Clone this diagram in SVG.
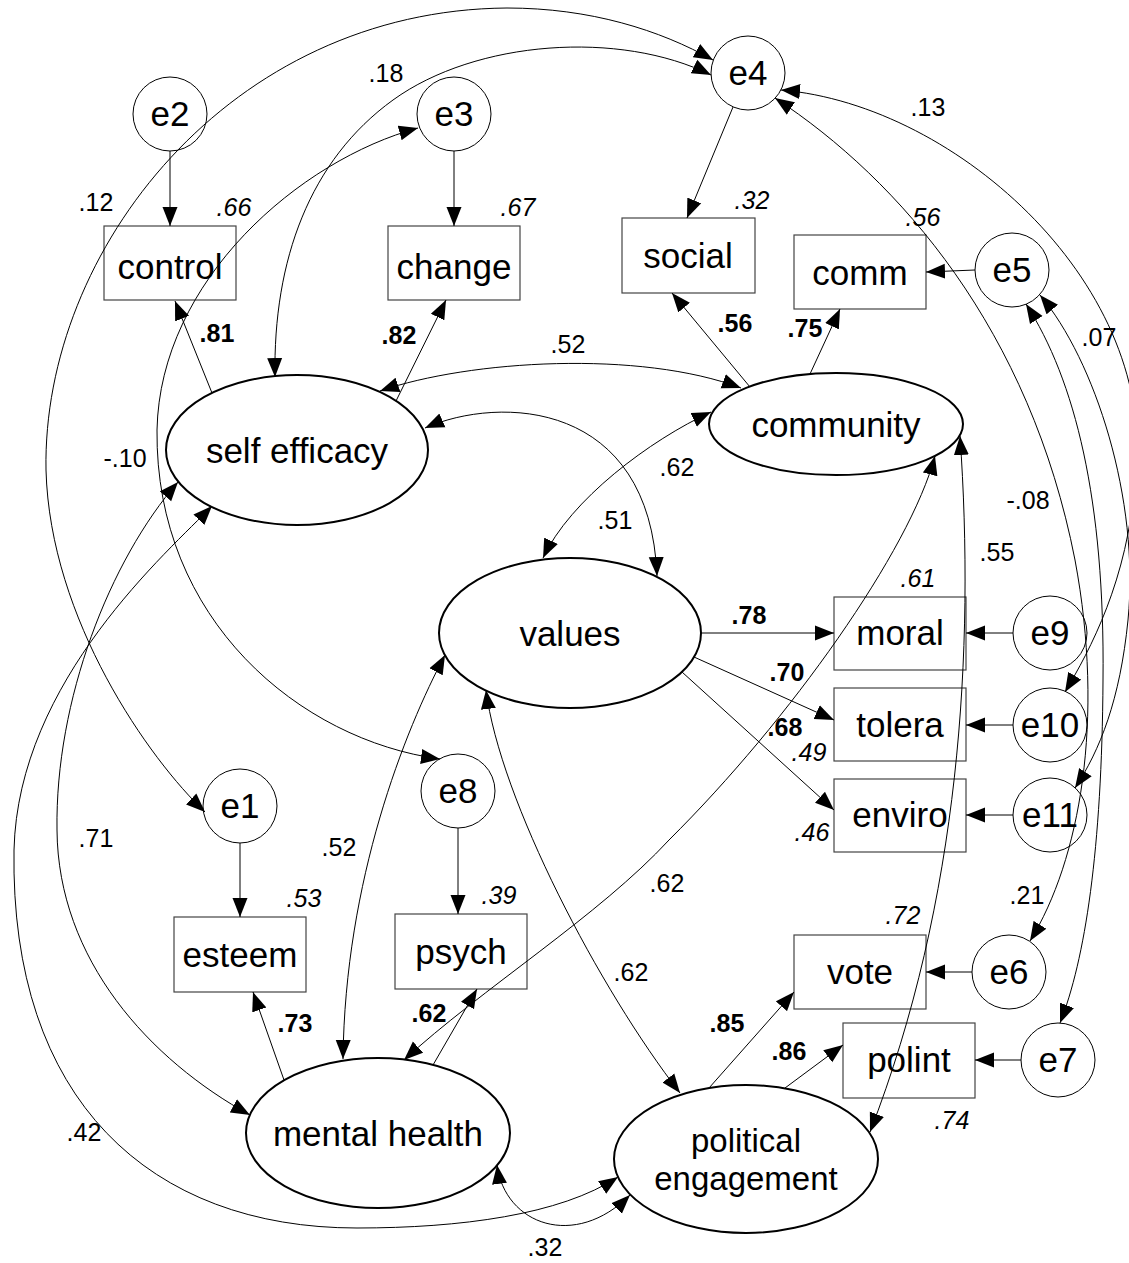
<svg xmlns="http://www.w3.org/2000/svg" width="1129" height="1263" viewBox="0 0 1129 1263">
<style>
.box{fill:#fff;stroke:#444;stroke-width:1.2}
.lat{fill:#fff;stroke:#000;stroke-width:2}
.err{fill:#fff;stroke:#000;stroke-width:1}
.t{font-family:"Liberation Sans",Arial,sans-serif;font-size:35px;text-anchor:middle;fill:#000}
.t2{font-family:"Liberation Sans",Arial,sans-serif;font-size:33px;text-anchor:middle;fill:#000}
.lb{font-family:"Liberation Sans",Arial,sans-serif;font-size:25px;text-anchor:middle;fill:#000}
.b{font-weight:bold}
.i{font-style:italic}
.s{fill:none;stroke:#000;stroke-width:1;marker-end:url(#ah)}
.d{fill:none;stroke:#000;stroke-width:1;marker-start:url(#ah);marker-end:url(#ah)}
</style>
<defs>
<marker id="ah" markerUnits="userSpaceOnUse" markerWidth="20" markerHeight="16" refX="19" refY="8" orient="auto-start-reverse"><path d="M0,0.5 L19,8 L0,15.5 z" fill="#000"/></marker>
</defs>
<rect width="1129" height="1263" fill="#fff"/>
<g id="nodes">
<g id="e2"><circle class="err" cx="170" cy="114" r="37"/><text class="t" x="170" y="126">e2</text></g>
<g id="e3"><circle class="err" cx="454" cy="114" r="37"/><text class="t" x="454" y="126">e3</text></g>
<g id="e4"><circle class="err" cx="748" cy="73" r="37"/><text class="t" x="748" y="85">e4</text></g>
<g id="e5"><circle class="err" cx="1012" cy="270" r="37"/><text class="t" x="1012" y="282">e5</text></g>
<g id="e9"><circle class="err" cx="1050" cy="633" r="37"/><text class="t" x="1050" y="645">e9</text></g>
<g id="e10"><circle class="err" cx="1050" cy="725" r="37"/><text class="t" x="1050" y="737">e10</text></g>
<g id="e11"><circle class="err" cx="1050" cy="815" r="37"/><text class="t" x="1050" y="827">e11</text></g>
<g id="e1"><circle class="err" cx="240" cy="806" r="37"/><text class="t" x="240" y="818">e1</text></g>
<g id="e8"><circle class="err" cx="458" cy="791" r="37"/><text class="t" x="458" y="803">e8</text></g>
<g id="e6"><circle class="err" cx="1009" cy="972" r="37"/><text class="t" x="1009" y="984">e6</text></g>
<g id="e7"><circle class="err" cx="1058" cy="1060" r="37"/><text class="t" x="1058" y="1072">e7</text></g>
<g id="control"><rect class="box" x="104" y="226" width="132" height="74"/><text class="t" x="170" y="279">control</text></g>
<g id="change"><rect class="box" x="388" y="226" width="132" height="74"/><text class="t" x="454" y="279">change</text></g>
<g id="social"><rect class="box" x="622" y="218" width="133" height="75"/><text class="t" x="688" y="268">social</text></g>
<g id="comm"><rect class="box" x="794" y="235" width="132" height="74"/><text class="t" x="860" y="285">comm</text></g>
<g id="moral"><rect class="box" x="834" y="597" width="132" height="73"/><text class="t" x="900" y="645">moral</text></g>
<g id="tolera"><rect class="box" x="834" y="688" width="132" height="73"/><text class="t" x="900" y="737">tolera</text></g>
<g id="enviro"><rect class="box" x="834" y="779" width="132" height="73"/><text class="t" x="900" y="827">enviro</text></g>
<g id="esteem"><rect class="box" x="174" y="917" width="132" height="75"/><text class="t" x="240" y="967">esteem</text></g>
<g id="psych"><rect class="box" x="395" y="914" width="132" height="75"/><text class="t" x="461" y="964">psych</text></g>
<g id="vote"><rect class="box" x="794" y="935" width="132" height="74"/><text class="t" x="860" y="984">vote</text></g>
<g id="polint"><rect class="box" x="843" y="1023" width="132" height="75"/><text class="t" x="909" y="1072">polint</text></g>
<g id="selfefficacy"><ellipse class="lat" cx="297" cy="450" rx="131" ry="75"/><text class="t" x="297" y="463">self efficacy</text></g>
<g id="community"><ellipse class="lat" cx="836" cy="424" rx="127" ry="51"/><text class="t" x="836" y="437">community</text></g>
<g id="values"><ellipse class="lat" cx="570" cy="633" rx="131" ry="75"/><text class="t" x="570" y="646">values</text></g>
<g id="mentalhealth"><ellipse class="lat" cx="378" cy="1133" rx="132" ry="75"/><text class="t" x="378" y="1146">mental health</text></g>
<g id="political"><ellipse class="lat" cx="746" cy="1159" rx="132" ry="74"/><text class="t2" x="746" y="1152">political</text><text class="t2" x="746" y="1190">engagement</text></g>
</g>
<g id="connectors">
<path class="s" d="M170,151 L170,226"/>
<path class="s" d="M454,151 L454,226"/>
<path class="s" d="M733,107 L687,218"/>
<path class="s" d="M212,393 L175,301"/>
<path class="s" d="M396,401 L446,300"/>
<path class="s" d="M750,387 L672,293"/>
<path class="s" d="M810,374 L840,309"/>
<path class="s" d="M975,270 L926,272"/>
<path class="s" d="M701,633 L834,633"/>
<path class="s" d="M694,657 L834,720"/>
<path class="s" d="M682,672 L834,810"/>
<path class="s" d="M1013,633 L966,633"/>
<path class="s" d="M1013,725 L966,725"/>
<path class="s" d="M1013,815 L966,815"/>
<path class="s" d="M240,843 L240,917"/>
<path class="s" d="M458,828 L458,914"/>
<path class="s" d="M284,1080 L253,992"/>
<path class="s" d="M433,1065 L477,989"/>
<path class="s" d="M709,1088 L794,992"/>
<path class="s" d="M785,1088 L843,1045"/>
<path class="s" d="M972,972 L926,972"/>
<path class="s" d="M1021,1060 L975,1060"/>
<path class="d" d="M205,812 C150,760 50,620 46,470 C42,250 230,10 507,8 C590,8 660,30 713,60"/>
<path class="d" d="M275,377 C273,260 310,160 393,100 C476,40 620,30 711,75"/>
<path class="d" d="M418,128 C300,160 160,280 157,430 C155,620 300,740 440,759"/>
<path class="d" d="M178,482 C110,560 55,700 57,830 C58,960 150,1060 250,1115"/>
<path class="d" d="M212,506 C170,550 18,680 14,850 C10,1100 150,1228 357,1228 C460,1228 560,1215 618,1177"/>
<path class="d" d="M445,655 C405,730 345,880 343,1059"/>
<path class="d" d="M486,690 C500,800 600,990 680,1093"/>
<path class="d" d="M935,456 C910,550 790,720 669,840 C600,915 480,990 404,1060"/>
<path class="d" d="M960,436 C975,650 960,900 870,1132"/>
<path class="d" d="M380,391 C470,360 640,350 741,388"/>
<path class="d" d="M425,428 C500,395 650,400 657,576"/>
<path class="d" d="M711,412 C650,440 570,500 543,558"/>
<path class="d" d="M497,1165 C505,1225 575,1250 630,1195"/>
<path class="d" d="M781,90 C960,105 1160,290 1135,480 C1128,580 1090,650 1065,692"/>
<path class="d" d="M775,98 C900,180 1030,330 1075,560 C1105,720 1080,860 1030,941"/>
<path class="d" d="M1026,304 C1075,380 1105,500 1103,680 C1102,850 1085,960 1060,1023"/>
<path class="d" d="M1040,295 C1095,360 1140,500 1128,620 C1120,700 1100,750 1075,788"/>
</g>
<g id="labels">
<text class="lb" x="386" y="82">.18</text>
<text class="lb" x="96" y="211">.12</text>
<text class="lb i" x="234" y="216">.66</text>
<text class="lb i" x="518" y="216">.67</text>
<text class="lb b" x="217" y="342">.81</text>
<text class="lb b" x="399" y="344">.82</text>
<text class="lb i" x="752" y="209">.32</text>
<text class="lb" x="928" y="116">.13</text>
<text class="lb i" x="923" y="226">.56</text>
<text class="lb b" x="735" y="332">.56</text>
<text class="lb b" x="805" y="337">.75</text>
<text class="lb" x="568" y="353">.52</text>
<text class="lb" x="1099" y="346">.07</text>
<text class="lb" x="125" y="467">-.10</text>
<text class="lb" x="677" y="476">.62</text>
<text class="lb" x="615" y="529">.51</text>
<text class="lb" x="1028" y="509">-.08</text>
<text class="lb" x="997" y="561">.55</text>
<text class="lb i" x="918" y="587">.61</text>
<text class="lb b" x="749" y="624">.78</text>
<text class="lb b" x="787" y="681">.70</text>
<text class="lb b" x="785" y="736">.68</text>
<text class="lb i" x="809" y="761">.49</text>
<text class="lb i" x="812" y="841">.46</text>
<text class="lb" x="96" y="847">.71</text>
<text class="lb" x="339" y="856">.52</text>
<text class="lb" x="667" y="892">.62</text>
<text class="lb" x="1027" y="904">.21</text>
<text class="lb i" x="304" y="907">.53</text>
<text class="lb i" x="499" y="904">.39</text>
<text class="lb i" x="903" y="924">.72</text>
<text class="lb" x="631" y="981">.62</text>
<text class="lb b" x="295" y="1032">.73</text>
<text class="lb b" x="429" y="1022">.62</text>
<text class="lb b" x="727" y="1032">.85</text>
<text class="lb b" x="789" y="1060">.86</text>
<text class="lb i" x="952" y="1129">.74</text>
<text class="lb" x="84" y="1141">.42</text>
<text class="lb" x="545" y="1256">.32</text>
</g>
</svg>
